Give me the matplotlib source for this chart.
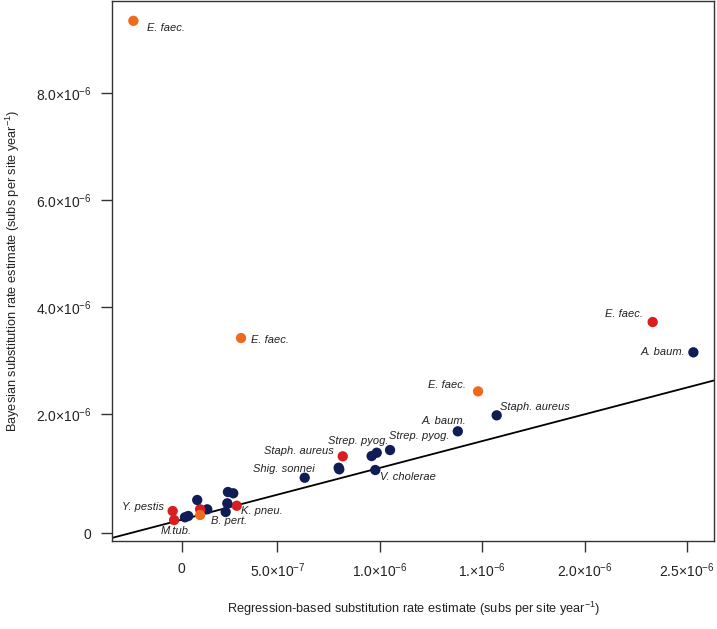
import numpy as np
import matplotlib
matplotlib.use("Agg")
import matplotlib.pyplot as plt

plt.rcParams["font.family"] = ["Liberation Sans", "DejaVu Sans"]
plt.rcParams["mathtext.fontset"] = "custom"
plt.rcParams["mathtext.rm"] = "Liberation Sans"
plt.rcParams["mathtext.it"] = "Liberation Sans:italic"

# rates in units of 1e-6 subs/site/year
reg_rate = [-0.204, 0.322, 1.480, 2.333, 2.532, 1.571, 1.381, 1.050, 0.985, 0.960,
            0.978, 0.819, 0.799, 0.802, 0.633, 0.301, 0.258, 0.284, 0.255, 0.247,
            0.157, 0.122, 0.122, 0.108, 0.048, 0.064, -0.012, -0.005]
bayes_rate = [9.35, 3.425, 2.429, 3.724, 3.158, 1.981, 1.683, 1.333, 1.283, 1.221,
              0.960, 1.216, 1.003, 0.973, 0.816, 0.293, 0.549, 0.525, 0.338, 0.176,
              0.226, 0.226, 0.120, 0.400, 0.077, 0.101, 0.194, 0.026]
group = ["o", "o", "o", "r", "n", "n", "n", "n", "n", "n",
         "n", "r", "n", "n", "n", "r", "n", "n", "n", "n",
         "n", "r", "o", "n", "n", "n", "r", "r"]

# (point index, label)
point_labels = [(0, "E. faec."), (1, "E. faec."), (2, "E. faec."), (3, "E. faec."),
                (4, "A. baum."), (5, "Staph. aureus"), (6, "A. baum."), (7, "Strep. pyog."),
                (8, "Strep. pyog."), (11, "Staph. aureus"), (14, "Shig. sonnei"),
                (10, "V. cholerae"), (26, "Y. pestis"), (15, "K. pneu."),
                (19, "B. pert."), (27, "M.tub.")]
# label placement (pixel offsets, alignment)
label_pos = {0: (14, -7, "left"), 1: (10, -2, "left"), 2: (-12, 6, "right"),
             3: (-10, 8, "right"), 4: (-8, 0, "right"), 5: (3, 8, "left"),
             6: (8, 10, "right"), 7: (-1, 14, "left"), 8: (12, 12, "right"),
             11: (-9, 5, "right"), 14: (10, 9, "right"), 10: (5, -7, "left"),
             26: (-9, 4, "right"), 15: (4, -5, "left"), 19: (-15, -9, "left"),
             27: (2, -11, "center")}

x_ticks = [0.032, 0.5, 1.0, 1.5, 2.0, 2.5]
x_ticklabels = ["0", "5.0×10$^{-7}$", "1.0×10$^{-6}$", "1.×10$^{-6}$",
                "2.0×10$^{-6}$", "2.5×10$^{-6}$"]
y_ticks = [-0.222, 2.0, 4.0, 6.0, 8.0]
y_ticklabels = ["0", "2.0×10$^{-6}$", "4.0×10$^{-6}$", "6.0×10$^{-6}$", "8.0×10$^{-6}$"]

COLORS = {"n": "#101c56", "r": "#d81e1e", "o": "#f06a1c"}
SCALE = 1e-6

x = np.array(reg_rate) * SCALE
y = np.array(bayes_rate) * SCALE

fig = plt.figure(figsize=(7.17, 6.29), dpi=100)
ax = fig.add_axes([0.1566, 0.1404, 0.8396, 0.858])

ax.axline((0, 0), slope=1, color="black", lw=1.3, zorder=1)
ax.scatter(x, y, s=55, c=[COLORS[g] for g in group], edgecolors="none", zorder=3)

for idx, txt in point_labels:
    dx, dy, ha = label_pos[idx]
    ax.annotate(txt, (x[idx], y[idx]), xytext=(dx, dy), textcoords="offset pixels",
                ha=ha, va="center", fontsize=8, style="italic", color="#222222")

ax.set_xlim(-0.307 * SCALE, 2.634 * SCALE)
ax.set_ylim(-0.36 * SCALE, 9.72 * SCALE)
ax.set_xticks(np.array(x_ticks) * SCALE)
ax.set_xticklabels(x_ticklabels)
ax.set_yticks(np.array(y_ticks) * SCALE)
ax.set_yticklabels(y_ticklabels)
ax.tick_params(axis="both", length=8, width=1.0, color="#333333", labelsize=10,
               labelcolor="#222222", pad=7)

for sp in ax.spines.values():
    sp.set_color("#333333")
    sp.set_linewidth(1.0)

ax.set_xlabel("Regression-based substitution rate estimate (subs per site year$^{-1}$)",
              fontsize=9.2, color="#222222", labelpad=14)
ax.set_ylabel("Bayesian substitution rate estimate (subs per site year$^{-1}$)",
              fontsize=9.2, color="#222222", labelpad=10)

fig.savefig("out.png", dpi=100)
